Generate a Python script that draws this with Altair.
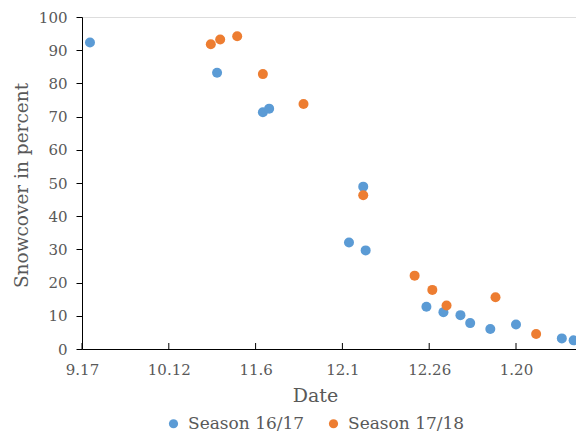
import json
import altair as alt
import pandas as pd

# Days since 17 Sept
season1_name = "Season 16/17"
season1_days = [2.3, 38.9, 52.1, 53.9, 76.9, 81.0, 81.7, 99.2, 104.1, 109.0, 111.8, 117.6, 125.0, 138.2, 141.6]
season1_vals = [92.3, 83.2, 71.3, 72.4, 32.1, 48.9, 29.7, 12.7, 11.1, 10.2, 7.8, 6.0, 7.4, 3.2, 2.6]

season2_name = "Season 17/18"
season2_days = [37.1, 39.8, 44.7, 52.1, 63.8, 81.0, 95.8, 100.9, 105.0, 119.1, 130.8]
season2_vals = [91.8, 93.2, 94.2, 82.8, 73.8, 46.3, 22.1, 17.8, 13.1, 15.6, 4.5]

tick_days = [0, 25, 50, 75, 100, 125]
tick_labels = ["9.17", "10.12", "11.6", "12.1", "12.26", "1.20"]
y_ticks = [0, 10, 20, 30, 40, 50, 60, 70, 80, 90, 100]

df = pd.concat([
    pd.DataFrame({"day": season1_days, "val": season1_vals, "season": season1_name}),
    pd.DataFrame({"day": season2_days, "val": season2_vals, "season": season2_name}),
])
ticks_df = pd.DataFrame({"day": tick_days})

FONT = "DejaVu Serif"
TXT = "#595959"
W, H = 494, 332
XMAX = W / 3.472

label_expr = json.dumps(tick_labels) + "[round(datum.value/25)]"

x_scale = alt.Scale(domain=[0, XMAX], nice=False, zero=False)

points = alt.Chart(df).mark_circle(size=100, opacity=1).encode(
    x=alt.X("day:Q", scale=x_scale,
            axis=alt.Axis(values=tick_days, labelExpr=label_expr, title="Date",
                          ticks=False, labelPadding=13, labelFontSize=15,
                          labelFlush=False, labelOverlap=False,
                          titleFontSize=19, titleX=233, titleY=46,
                          titleBaseline="middle", titleFontWeight="normal",
                          grid=False, domainColor="black", labelColor=TXT,
                          titleColor=TXT, labelFont=FONT, titleFont=FONT)),
    y=alt.Y("val:Q", scale=alt.Scale(domain=[0, 100], nice=False),
            axis=alt.Axis(values=y_ticks, title="Snowcover in percent",
                          tickSize=6, tickColor="black", labelPadding=9,
                          labelFontSize=15, titleFontSize=18.5, titleX=-61,
                          titleY=168, titleBaseline="middle",
                          titleFontWeight="normal", grid=False,
                          labelFlush=False, labelOverlap=False,
                          domainColor="black", labelColor=TXT, titleColor=TXT,
                          labelFont=FONT, titleFont=FONT)),
    color=alt.Color("season:N",
                    scale=alt.Scale(domain=[season1_name, season2_name],
                                    range=["#5B9BD5", "#ED7D31"]),
                    legend=alt.Legend(title=None, orient="none", direction="horizontal",
                                      legendX=83, legendY=398, symbolType="circle",
                                      symbolSize=85, labelFontSize=17,
                                      labelFont=FONT,
                                      labelColor=TXT, columnPadding=20, padding=0,
                                      labelOffset=6, symbolOpacity=1)),
)

inner_ticks = alt.Chart(ticks_df).mark_rule(color="black", strokeWidth=1).encode(
    x=alt.X("day:Q", scale=x_scale),
    y=alt.value(H),
    y2=alt.value(H - 6),
)

chart = alt.layer(points, inner_ticks).properties(
    width=W, height=H,
    autosize=alt.AutoSizeParams(type="none"),
    padding={"left": 74, "top": 9, "right": 0, "bottom": 84},
).configure_view(stroke="black", strokeWidth=1).configure(background="white")

chart.save("out.html", embed_options={"renderer": "svg", "actions": False})
